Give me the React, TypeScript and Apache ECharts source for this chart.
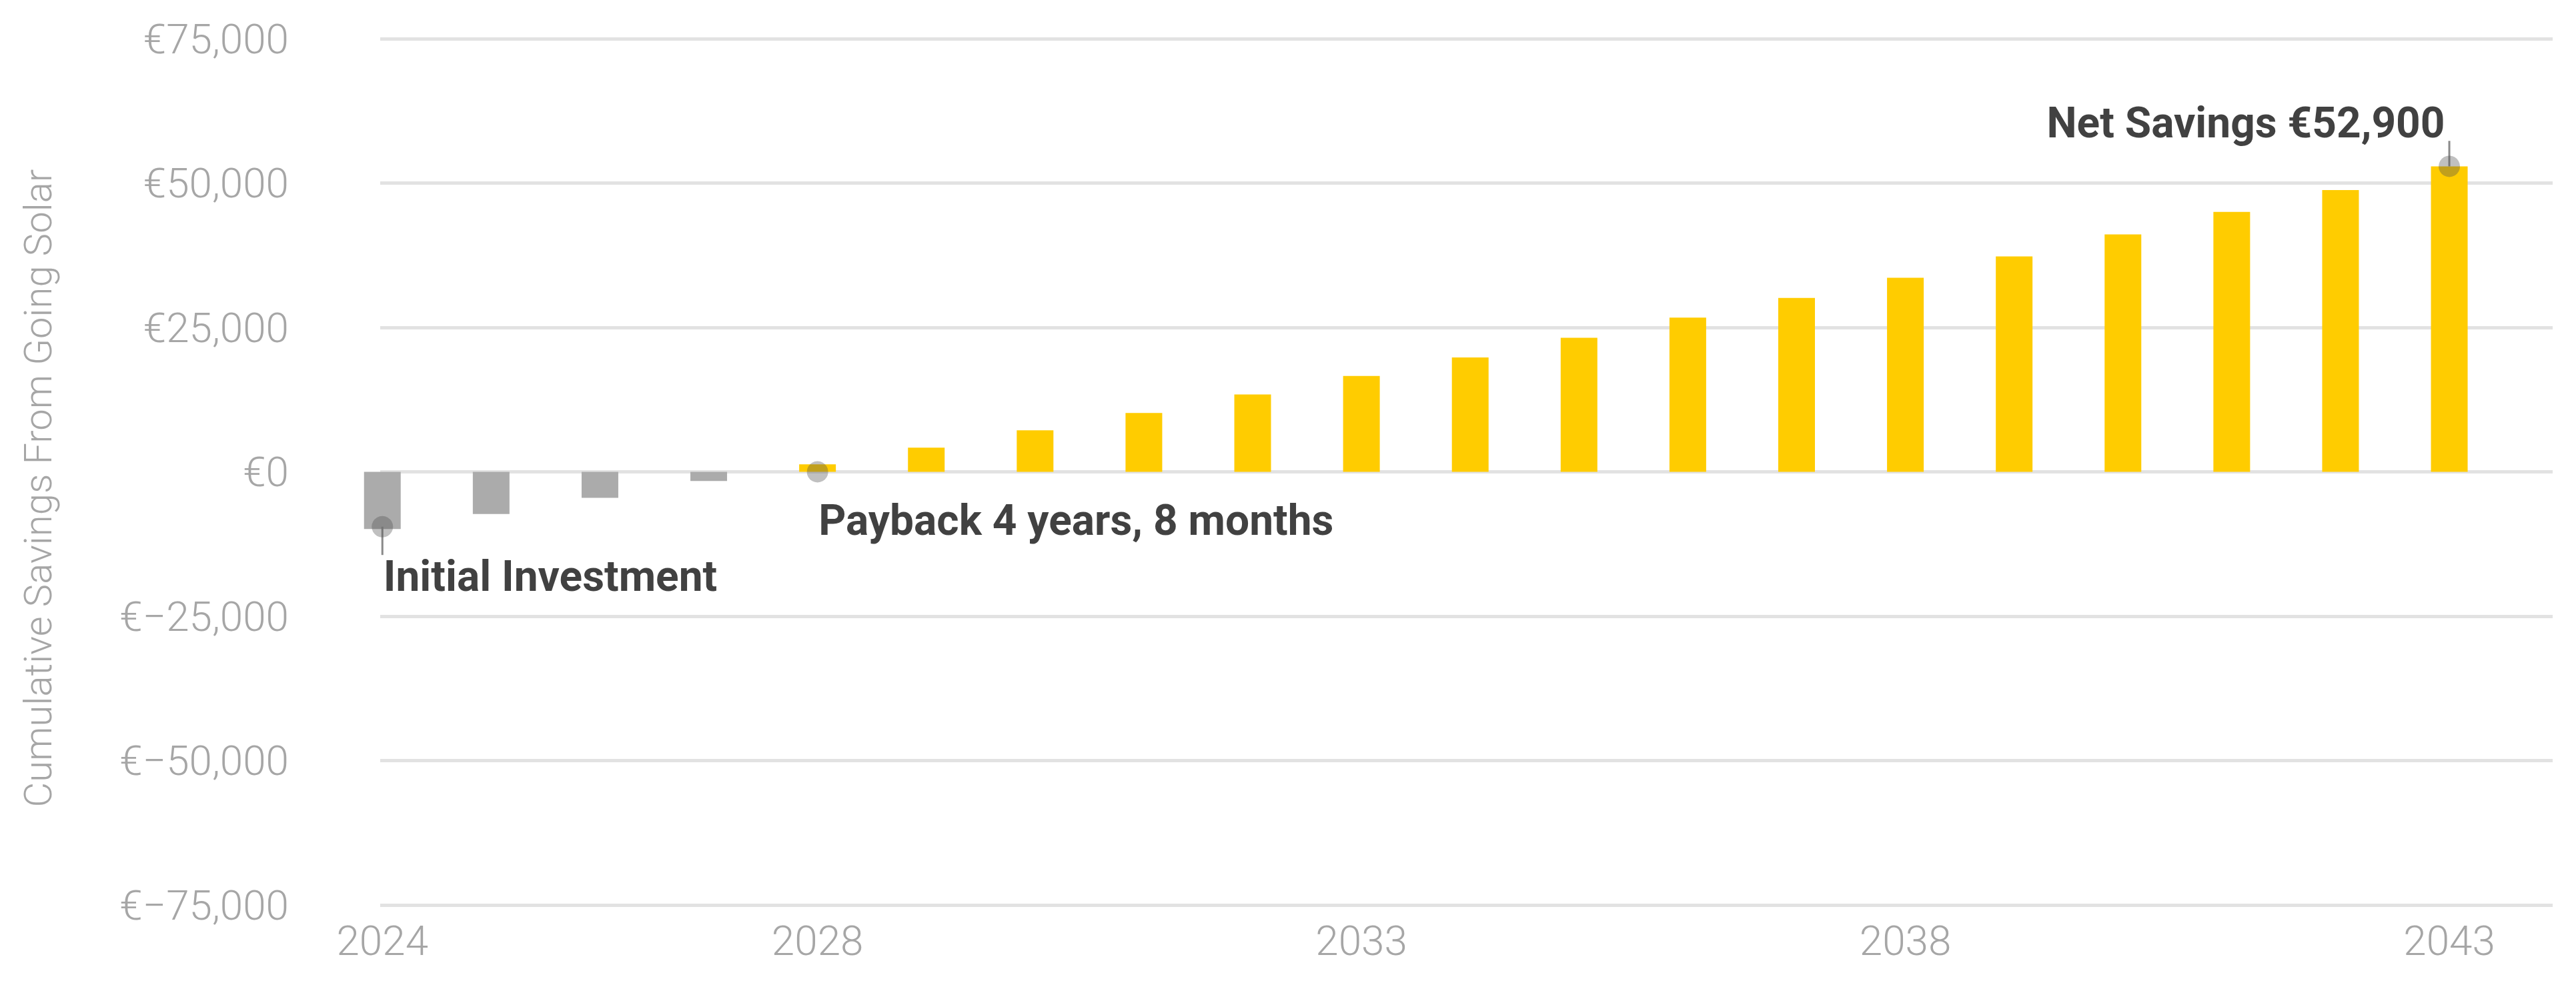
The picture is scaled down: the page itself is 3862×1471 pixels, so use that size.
import React, { useEffect, useRef } from "react";
import * as echarts from "echarts";

const years = [2024, 2025, 2026, 2027, 2028, 2029, 2030, 2031, 2032, 2033, 2034, 2035, 2036, 2037, 2038, 2039, 2040, 2041, 2042, 2043];
const cumulativeSavings = [-9900, -7300, -4500, -1600, 1300, 4200, 7200, 10200, 13400, 16600, 19800, 23200, 26700, 30100, 33600, 37300, 41100, 45000, 48800, 52900];
const xTickLabels = [2024, 2028, 2033, 2038, 2043];
const yTicks = { min: -75000, max: 75000, interval: 25000 };

const annotationYears = [2024, 2028, 2043];
const annotationMarkerValues = [-9500, 0, 52900];
const annotationStemEnds = [-14400, 0, 57300];
const annotationTexts = ["Initial Investment", "Payback 4 years, 8 months", "Net Savings €52,900"];

const axisTitle = "Cumulative Savings From Going Solar";

const GRAY_BAR = "#ababab";
const YELLOW_BAR = "#ffcc00";
const LABEL_GRAY = "#a6a6a6";

function formatEuro(v: number): string {
  const abs = Math.abs(v).toLocaleString("en-US");
  return "€" + (v < 0 ? "−" : "") + abs;
}

export default function App() {
  const ref = useRef<HTMLDivElement>(null);

  useEffect(() => {
    if (!ref.current) return;
    const chart = echarts.init(ref.current, null, { renderer: "svg" });

    const labelLayouts = [
      { align: "left", verticalAlign: "top", offset: [2, 1] },
      { align: "left", verticalAlign: "top", offset: [2, 41] },
      { align: "right", verticalAlign: "bottom", offset: [-6, 6] },
    ];

    const stemSeries = annotationYears.map((yr, i) => ({
      type: "line",
      name: "stem" + i,
      data: [
        [yr, annotationMarkerValues[i]],
        [yr, annotationStemEnds[i]],
      ],
      symbol: "none",
      lineStyle: { color: "#8a8a8a", width: 3 },
      z: 4,
      silent: true,
    }));

    const option: any = {
      animation: false,
      backgroundColor: "#ffffff",
      grid: { left: 570, right: 35, top: 58, bottom: 114, containLabel: false },
      xAxis: {
        type: "value",
        min: 2023.98,
        max: 2043.95,
        axisLine: { show: false },
        axisTick: { show: false },
        splitLine: { show: false },
        axisLabel: {
          customValues: xTickLabels,
          formatter: (v: number) => String(Math.round(v)),
          fontSize: 62,
          fontFamily: "Roboto",
          fontWeight: 300,
          color: LABEL_GRAY,
          margin: 22,
        },
      },
      yAxis: {
        type: "value",
        min: yTicks.min,
        max: yTicks.max,
        interval: yTicks.interval,
        axisLine: { show: false },
        axisTick: { show: false },
        splitLine: { show: true, lineStyle: { color: "#e2e2e2", width: 5 } },
        axisLabel: {
          formatter: (v: number) => formatEuro(v),
          fontSize: 62,
          fontFamily: "Roboto",
          fontWeight: 300,
          color: LABEL_GRAY,
          margin: 137,
        },
      },
      graphic: [
        {
          type: "text",
          x: 57,
          y: 732,
          rotation: Math.PI / 2,
          style: {
            text: axisTitle,
            fontSize: 58,
            fontFamily: "Roboto",
            fontWeight: 300,
            fill: LABEL_GRAY,
            align: "center",
            verticalAlign: "middle",
          },
        },
      ],
      series: [
        {
          type: "bar",
          name: "Cumulative Savings",
          data: years.map((y, i) => [y, cumulativeSavings[i]]),
          barWidth: 55,
          itemStyle: {
            color: (p: any) => (p.value[1] < 0 ? GRAY_BAR : YELLOW_BAR),
          },
          z: 2,
        },
        ...stemSeries,
        {
          type: "scatter",
          name: "markers",
          data: annotationYears.map((yr, i) => [yr, annotationMarkerValues[i]]),
          symbol: "circle",
          symbolSize: 32,
          itemStyle: { color: "rgba(80,80,80,0.45)" },
          z: 5,
          silent: true,
        },
        {
          type: "scatter",
          name: "annotations",
          data: annotationYears.map((yr, i) => ({
            value: [yr, annotationStemEnds[i]],
            label: {
              show: true,
              formatter: annotationTexts[i],
              position: [0, 0],
              align: labelLayouts[i].align,
              verticalAlign: labelLayouts[i].verticalAlign,
              offset: labelLayouts[i].offset,
              fontSize: 64,
              fontWeight: "bold",
              fontFamily: "Roboto",
              color: "#111111",
            },
          })),
          symbol: "circle",
          symbolSize: 1,
          itemStyle: { color: "rgba(0,0,0,0)" },
          z: 6,
          silent: true,
        },
      ],
    };

    chart.setOption(option);
    return () => chart.dispose();
  }, []);

  return (
    <div
      ref={ref}
      style={{ position: "absolute", left: 0, top: 0, width: 3862, height: 1471 }}
    />
  );
}
